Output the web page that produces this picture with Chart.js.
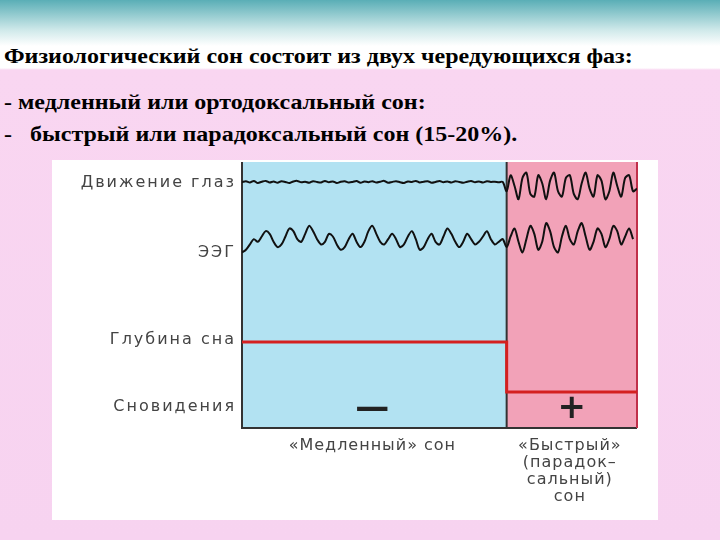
<!DOCTYPE html>
<html><head><meta charset="utf-8">
<script src="https://cdn.jsdelivr.net/npm/chart.js@4"></script>
<style>
body{margin:0;width:720px;height:540px;overflow:hidden;position:relative;
background:linear-gradient(to bottom,#5aaeb6 0px,#cfe9ea 30px,#ffffff 46px,#ffffff 68px,#f9d6f1 70px,#f7d3f0 540px);}
.t{position:absolute;left:4px;font-family:"Liberation Serif",serif;font-weight:bold;font-size:20px;color:#000;white-space:nowrap;transform:scaleX(1.2);transform-origin:left top}
#box{position:absolute;left:52px;top:160px;width:606px;height:360px;background:#fff}
canvas{position:absolute;left:0;top:0}
</style></head><body>
<div class="t" style="top:45px">Физиологический сон состоит из двух чередующихся фаз:</div>
<div class="t" style="top:91px">- медленный или ортодоксальный сон:</div>
<div class="t" style="top:123px">-&nbsp;&nbsp; быстрый или парадоксальный сон (15-20%).</div>
<div id="box"></div>
<canvas id="c" width="720" height="540"></canvas>
<script>
const phaseBoundary = 67;
const eyeMovement = [92.4,92.8,92.3,92.9,92.1,92.6,92.9,92.3,92.7,92.2,92.8,92.5,92.1,92.7,92.9,92.4,92.6,92.2,92.8,92.5,92.3,92.9,92.4,92.7,92.1,92.6,92.8,92.3,92.5,92.9,92.2,92.7,92.4,92.8,92.3,92.6,92.9,92.2,92.5,92.8,92.4,92.1,92.7,92.5,92.9,92.3,92.6,92.8,92.2,92.5,92.9,92.4,92.7,92.3,92.8,92.5,92.2,92.6,92.9,92.4,92.7,92.3,92.8,92.5,92.6,92.4,92.5,
89,95,91,86,94,96,88,87,95,92,86,93,96,89,87,94,95,88,86,92,96,90,87,95,93,86,89,96,91,87,94,95,89,90];
const eeg = [66,67,69,71,70,72,74,73,70,68,69,72,75,74,71,70,73,76,74,71,69,70,73,72,69,67,68,71,73,70,68,70,74,76,73,70,69,71,73,71,68,69,72,74,71,67,68,71,73,70,69,72,75,73,70,68,70,73,71,69,70,72,74,71,69,70,71,
68,72,75,70,66,71,76,73,67,70,77,74,68,66,72,76,71,69,74,77,72,67,70,75,73,68,71,76,74,69,72,75,71];
const sleepDepthX = [0, 67, 67, 100];
const sleepDepth = [32.3, 32.3, 13.5, 13.5];
const leftLabels = ["Движение глаз","ЭЭГ","Глубина сна","Сновидения"];
const leftLabelY = [92,66,33,8];
const bottomSlow = ["«Медленный» сон"];
const bottomFast = ["«Быстрый»","(парадок–","сальный)","сон"];

const toXY=(arr)=>arr.map((v,i)=>({x:i,y:v}));
const bg={id:'bg',beforeDatasetsDraw(ch){
 const {ctx,scales:{x,y}}=ch;
 const x0=x.getPixelForValue(0),xb=x.getPixelForValue(phaseBoundary),x1=x.getPixelForValue(100);
 const yt=y.getPixelForValue(100),yb=y.getPixelForValue(0);
 ctx.save();
 ctx.fillStyle='#b2e2f2';ctx.fillRect(x0,yt,xb-x0,yb-yt);
 ctx.fillStyle='#f2a2b8';ctx.fillRect(xb,yt,x1-xb,yb-yt);
 ctx.strokeStyle='#333';ctx.lineWidth=2;
 ctx.beginPath();ctx.moveTo(x0,yt);ctx.lineTo(x0,yb);ctx.lineTo(x1,yb);ctx.stroke();
 ctx.beginPath();ctx.moveTo(xb,yt);ctx.lineTo(xb,yb);ctx.stroke();
 ctx.strokeStyle='#c0304a';ctx.lineWidth=2;ctx.beginPath();ctx.moveTo(x1,yt);ctx.lineTo(x1,yb);ctx.stroke();
 ctx.restore();
},afterDatasetsDraw(ch){
 const {ctx,scales:{x,y}}=ch;ctx.save();
 ctx.fillStyle='#444';ctx.font='16px "DejaVu Sans"';ctx.letterSpacing='2px';ctx.textAlign='right';ctx.textBaseline='middle';
 leftLabels.forEach((t,i)=>ctx.fillText(t,x.getPixelForValue(0)-6,y.getPixelForValue(leftLabelY[i])));
 ctx.letterSpacing='0px';
 ctx.fillStyle='#222';ctx.font='bold 34px "DejaVu Sans"';ctx.textAlign='center';
 ctx.fillText('—',x.getPixelForValue(33),y.getPixelForValue(7));
 ctx.fillText('+',x.getPixelForValue(83.5),y.getPixelForValue(7));
 ctx.fillStyle='#444';ctx.font='16px "DejaVu Sans"';ctx.letterSpacing='1px';
 ctx.fillText(bottomSlow[0],x.getPixelForValue(33),y.getPixelForValue(0)+18);
 bottomFast.forEach((t,i)=>ctx.fillText(t,x.getPixelForValue(83),y.getPixelForValue(0)+18+i*17));
 ctx.restore();
}};
new Chart(document.getElementById('c'),{type:'line',
data:{datasets:[
 {data:toXY(eyeMovement),borderColor:'#111',borderWidth:2,pointRadius:0,tension:0.3},
 {data:toXY(eeg),borderColor:'#111',borderWidth:2,pointRadius:0,tension:0.3},
 {data:sleepDepthX.map((v,i)=>({x:v,y:sleepDepth[i]})),borderColor:'#d42020',borderWidth:3,pointRadius:0}
]},
options:{responsive:false,animation:false,layout:{padding:{left:242,right:83,top:162,bottom:112}},
 plugins:{legend:{display:false},tooltip:{enabled:false}},
 scales:{x:{type:'linear',min:0,max:100,display:false},y:{min:0,max:100,display:false}}},
plugins:[bg]});
</script></body></html>
